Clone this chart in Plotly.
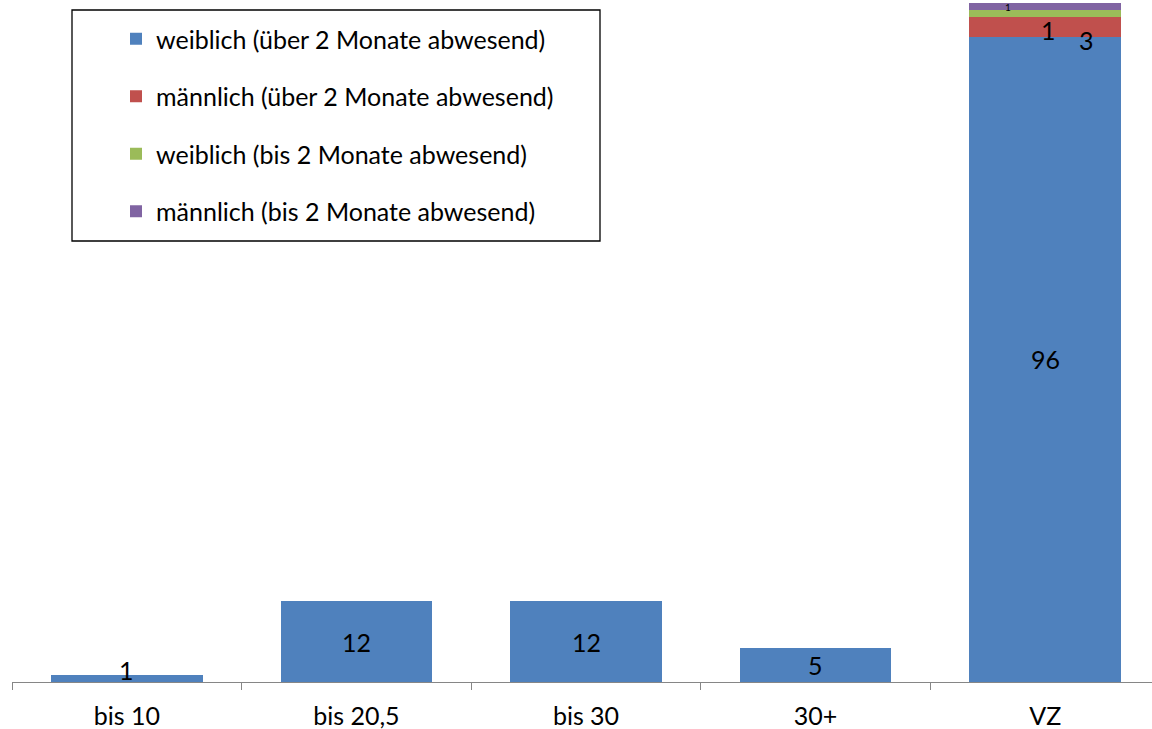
import plotly.graph_objects as go

# Kategorien (Beschäftigungsumfang) und Werte je Gruppe
categories = ["bis 10", "bis 20,5", "bis 30", "30+", "VZ"]
weiblich_ueber = [1, 12, 12, 5, 96]
maennlich_ueber = [0, 0, 0, 0, 3]
weiblich_bis = [0, 0, 0, 0, 1]
maennlich_bis = [0, 0, 0, 0, 1]

series_names = [
    "weiblich (über 2 Monate abwesend)",
    "männlich (über 2 Monate abwesend)",
    "weiblich (bis 2 Monate abwesend)",
    "männlich (bis 2 Monate abwesend)",
]
series_values = [weiblich_ueber, maennlich_ueber, weiblich_bis, maennlich_bis]
colors = ["#4F81BD", "#C0504D", "#9BBB59", "#8064A2"]

FONT = "Lato"
FS = 25

fig = go.Figure()
for i, (name, vals, col) in enumerate(zip(series_names, series_values, colors)):
    fig.add_trace(go.Bar(
        x=categories, y=vals, name=name, marker_color=col,
        marker_line_width=0, width=0.66, legendgroup=f"g{i}",
    ))

# Versatz der Datenbeschriftungen (Pixel) je Reihe, damit sie sich nicht überdecken
label_shift = {0: (0, 0), 1: (41, -13), 2: (3, -17), 3: (-37, 0)}

annotations = []
for ci, cat in enumerate(categories):
    base = 0
    for si, vals in enumerate(series_values):
        v = vals[ci]
        if v > 0:
            dx, dy = label_shift[si]
            size = FS
            if si == 0 and v < 2:
                dy = 9
            if si == 3:
                size = 10
            annotations.append(dict(
                x=cat, y=base + v / 2, text=str(v), showarrow=False,
                xshift=dx, yshift=dy,
                font=dict(family=FONT, size=size, color="black"),
            ))
        base += v

plot_left, plot_w, plot_h = 12, 1140, 682

fig.update_layout(
    width=1152, height=729,
    margin=dict(l=plot_left, r=0, t=0, b=729 - plot_h),
    paper_bgcolor="white", plot_bgcolor="white",
    barmode="stack",
    font=dict(family=FONT, size=FS, color="black"),
    xaxis=dict(
        type="category", range=[-0.5, -0.5 + plot_w / 229.6],
        tickson="boundaries", ticks="outside", ticklen=7, tickcolor="#868686",
        showline=True, linecolor="#868686", linewidth=1, showgrid=False,
        ticklabelstandoff=12,
        tickfont=dict(family=FONT, size=FS, color="black"),
    ),
    yaxis=dict(range=[0, 101.5], visible=False),
    showlegend=True,
    legend=dict(
        x=(116 - plot_left) / plot_w, y=1 - 16 / plot_h,
        xanchor="left", yanchor="top",
        bgcolor="rgba(0,0,0,0)", borderwidth=0,
        traceorder="grouped", tracegroupgap=22,
        font=dict(family=FONT, size=FS, color="black"),
    ),
    annotations=annotations,
    shapes=[dict(
        type="rect", xref="paper", yref="paper",
        x0=(72 - plot_left) / plot_w, x1=(600 - plot_left) / plot_w,
        y0=1 - 241 / plot_h, y1=1 - 10 / plot_h,
        line=dict(color="black", width=1.3), fillcolor="rgba(0,0,0,0)",
    )],
)

fig.write_html("out.html")
